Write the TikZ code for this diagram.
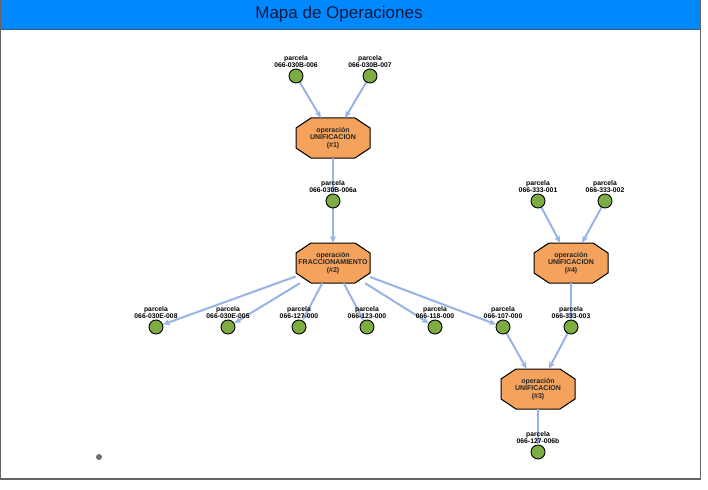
\documentclass[tikz,border=0pt]{standalone}
\usepackage{fontspec}
\setmainfont{Liberation Sans}
\usetikzlibrary{arrows.meta}
\pgfdeclarelayer{back}
\pgfdeclarelayer{bg}
\pgfsetlayers{back,bg,main}
\definecolor{hdr}{RGB}{0,136,255}
\definecolor{hdrline}{RGB}{60,90,130}
\definecolor{edgec}{RGB}{150,180,230}
\definecolor{grn}{RGB}{124,172,66}
\definecolor{org}{RGB}{244,162,92}
\definecolor{frm}{RGB}{100,100,100}
\definecolor{ttl}{RGB}{10,25,60}
\definecolor{dotc}{RGB}{110,110,110}
\tikzset{
  parcel/.style={circle, draw=black, line width=0.9pt, fill=grn, minimum size=14pt, inner sep=0pt,
    label={[plabel]above:{parcela\\#1}}},
  plabel/.style={font=\fontsize{6.8}{7}\selectfont\bfseries, align=center, inner sep=0.5pt, text=black, label distance=0pt},
  opnode/.style={rectangle, minimum width=74pt, minimum height=40pt, inner sep=0pt, align=center,
    font=\fontsize{7}{7.2}\selectfont\bfseries, text=black!85},
  octstyle/.style={draw=black, line width=1pt, fill=org, line join=miter},
  conn/.style={draw=edgec, line width=2pt, -{Stealth[length=7pt,width=6pt]}},
}
\newcommand\octa[1]{\begin{pgfonlayer}{bg}\draw[octstyle, shift={(#1.center)}] (-22,-20) -- (22,-20) -- (37,-10) -- (37,10) -- (22,20) -- (-22,20) -- (-37,10) -- (-37,-10) -- cycle;\end{pgfonlayer}}
\begin{document}
\begin{tikzpicture}[x=1pt,y=-1pt]
\useasboundingbox (0,0) rectangle (708,489);
% frame and header
\begin{pgfonlayer}{back}
\fill[white] (0,0) rectangle (708,489);
\fill[hdr] (0,0) rectangle (700.5,29);
\draw[hdrline, line width=0.8pt] (0,29) -- (700.5,29);
\draw[frm, line width=1.2pt] (0.6,0) -- (0.6,479) -- (700.5,479) -- (700.5,0);
\end{pgfonlayer}
\node[font=\fontsize{17}{20}\selectfont, text=ttl] (title) at (339,14) {Mapa de Operaciones};
% operation nodes
\node[opnode] (op1) at (333,138) {operación\\UNIFICACION\\(\#1)};
\node[opnode] (op2) at (333,263) {operación\\FRACCIONAMIENTO\\(\#2)};
\node[opnode] (op4) at (571,263) {operación\\UNIFICACION\\(\#4)};
\node[opnode] (op3) at (538,389) {operación\\UNIFICACION\\(\#3)};
\octa{op1}\octa{op2}\octa{op4}\octa{op3}
% parcels
\node[parcel={066-030B-006}] (p1) at (296,76) {};
\node[parcel={066-030B-007}] (p2) at (370,76) {};
\node[parcel={066-030B-006a}] (p3) at (333,201) {};
\node[parcel={066-333-001}] (pa) at (538,201) {};
\node[parcel={066-333-002}] (pb) at (605,201) {};
\node[parcel={066-030E-008}] (r1) at (156,327) {};
\node[parcel={066-030E-005}] (r2) at (228,327) {};
\node[parcel={066-127-000}] (r3) at (299,327) {};
\node[parcel={066-123-000}] (r4) at (367,327) {};
\node[parcel={066-118-000}] (r5) at (435,327) {};
\node[parcel={066-107-000}] (r6) at (503,327) {};
\node[parcel={066-333-003}] (r7) at (571,327) {};
\node[parcel={066-127-006b}] (p4) at (538,452) {};
\node[circle, fill=dotc, minimum size=6pt, inner sep=0pt] (dot) at (99,457) {};
% connectors
\begin{pgfonlayer}{bg}
\draw[conn] (p1) -- (op1);
\draw[conn] (p2) -- (op1);
\draw[conn] (op1) -- (p3);
\draw[conn] (p3) -- (op2);
\foreach \t in {r1,r2,r3,r4,r5,r6} \draw[conn] (op2) -- (\t);
\draw[conn] (pa) -- (op4);
\draw[conn] (pb) -- (op4);
\draw[conn] (op4) -- (r7);
\draw[conn] (r6) -- (op3);
\draw[conn] (r7) -- (op3);
\draw[conn] (op3) -- (p4);
\end{pgfonlayer}
\end{tikzpicture}
\end{document}
